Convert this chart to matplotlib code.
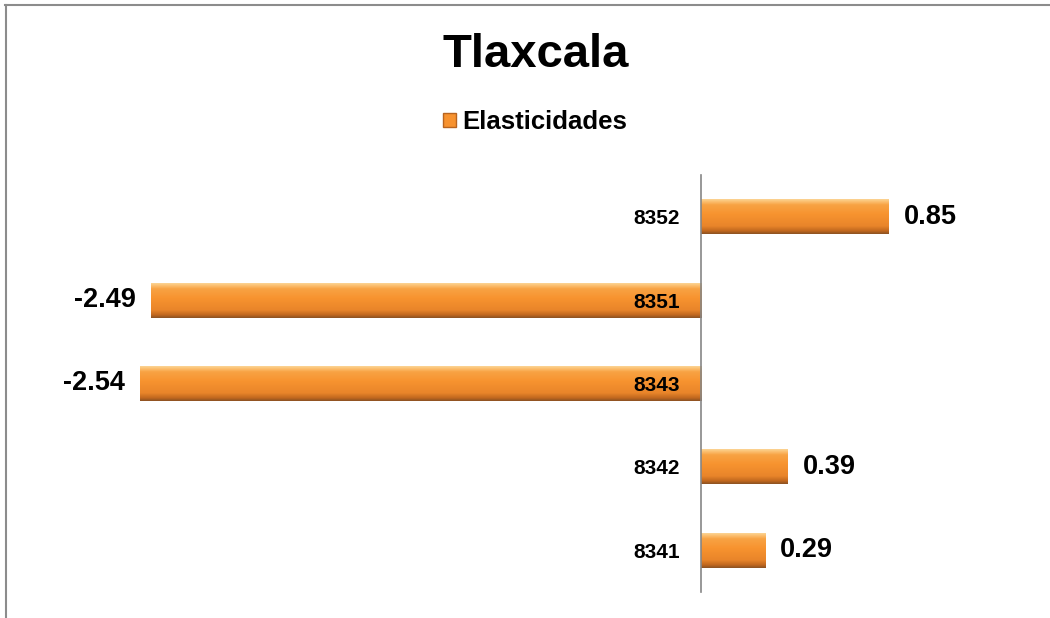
import numpy as np
import matplotlib
matplotlib.use("Agg")
import matplotlib.pyplot as plt
from matplotlib.patches import Patch
from matplotlib.lines import Line2D
from matplotlib.colors import to_rgb

plt.rcParams['font.family'] = ['Liberation Sans', 'DejaVu Sans']

# data
categories = ["8341", "8342", "8343", "8351", "8352"]
elasticidades = [0.29, 0.39, -2.54, -2.49, 0.85]
title = "Tlaxcala"
series_name = "Elasticidades"

orange = "#F7922F"

fig = plt.figure(figsize=(10.5, 6.18), dpi=100)
ax = fig.add_axes([20 / 1050, 26 / 618, 1010 / 1050, 417 / 618])

y = np.arange(len(categories))
bars = ax.barh(y, elasticidades, height=0.42, color=orange, zorder=1)

# bevel-ish vertical gradient on every bar
stops = [0.0, 0.08, 0.22, 0.55, 0.82, 0.93, 1.0]
cols = ["#8E5323", "#C0671E", "#E9852A", "#F7932F", "#F8A344", "#FCC77C", "#FBD9A0"]
rgb = np.array([to_rgb(c) for c in cols])
t = np.linspace(0, 1, 64)
grad = np.stack([np.interp(t, stops, rgb[:, k]) for k in range(3)], axis=-1)[:, None, :]
for b in bars:
    x0, y0, w, h = b.get_x(), b.get_y(), b.get_width(), b.get_height()
    im = ax.imshow(grad, extent=[x0, x0 + w, y0, y0 + h], origin="lower",
                   aspect="auto", zorder=1.2, interpolation="bilinear")
    im.set_clip_path(b)

ax.set_xlim(-681 / 221, 329 / 221)
ax.set_ylim(-0.5, len(categories) - 0.5)

for s in ["top", "right", "bottom"]:
    ax.spines[s].set_visible(False)
ax.spines["left"].set_position(("data", 0))
ax.spines["left"].set_color("#868686")
ax.spines["left"].set_linewidth(1.2)
ax.spines["left"].set_zorder(3)
ax.set_xticks([])
ax.set_yticks(y)
ax.set_yticklabels(categories, fontsize=15, fontweight="bold")
ax.tick_params(axis="y", length=0, pad=15)

for i, v in enumerate(elasticidades):
    ax.annotate(f"{v:.2f}", (v, i), xytext=(11 if v > 0 else -11, 0),
                textcoords="offset points", ha="left" if v > 0 else "right",
                va="center", fontsize=19.5, fontweight="bold")

fig.text(0.51, 1 - 55 / 618, title, ha="center", va="center",
         fontsize=34, fontweight="bold")
fig.legend(handles=[Patch(facecolor=orange, edgecolor="#B8641F")], labels=[series_name],
           loc="center", bbox_to_anchor=(0.51, 1 - 122 / 618), frameon=False,
           prop={"weight": "bold", "size": 18.5}, handlelength=0.5, handleheight=0.5,
           handletextpad=0.25)

# chart frame (top and left edges visible)
fig.add_artist(Line2D([5 / 1050, 1], [1 - 5 / 618, 1 - 5 / 618],
                      transform=fig.transFigure, color="#8c8c8c", lw=1.5))
fig.add_artist(Line2D([6 / 1050, 6 / 1050], [0, 1 - 5 / 618],
                      transform=fig.transFigure, color="#8c8c8c", lw=1.5))

fig.savefig("out.png", dpi=100)
